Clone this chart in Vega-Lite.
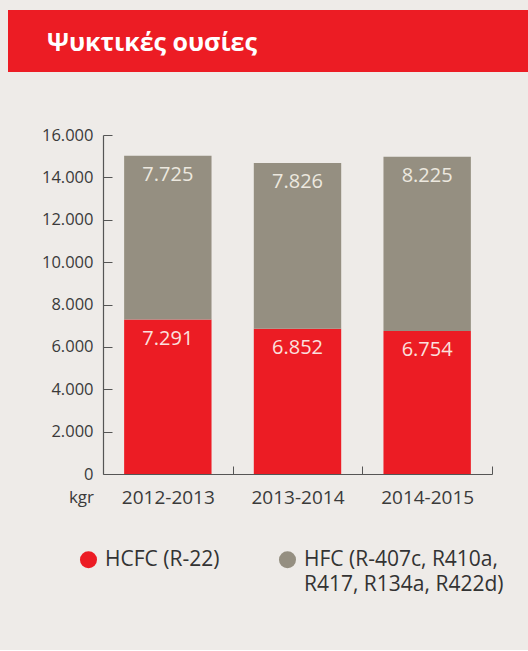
{
  "$schema": "https://vega.github.io/schema/vega-lite/v6.json",
  "background": "#eeebe8",
  "padding": {"top": 10, "left": 8, "right": 0, "bottom": 55},
  "spacing": 55,
  "config": {
    "locale": {"number": {"decimal": ",", "thousands": ".", "grouping": [3], "currency": ["", " €"]}},
    "font": "Open Sans",
    "view": {"stroke": null},
    "style": {"guide-label": {"lineHeight": 25}}
  },
  "vconcat": [
    {
      "width": 520,
      "height": 62,
      "view": {"fill": "#ec1c24", "stroke": null},
      "title": {"text": "Ψυκτικές ουσίες", "anchor": "start", "frame": "group", "dx": 39, "offset": -58, "baseline": "middle", "color": "#ffffff", "fontSize": 25, "fontWeight": "bold", "font": "Open Sans"},
      "data": {"values": [{"t": ""}]},
      "mark": {"type": "text"},
      "encoding": {"text": {"field": "t"}}
    },
    {
      "width": 484,
      "height": 339,
      "data": {"values": [
        {"period": "2012-2013", "type": "HCFC (R-22)", "order": 1, "value": 7291},
        {"period": "2012-2013", "type": "HFC (R-407c, R410a, R417, R134a, R422d)", "order": 2, "value": 7725},
        {"period": "2013-2014", "type": "HCFC (R-22)", "order": 1, "value": 6852},
        {"period": "2013-2014", "type": "HFC (R-407c, R410a, R417, R134a, R422d)", "order": 2, "value": 7826},
        {"period": "2014-2015", "type": "HCFC (R-22)", "order": 1, "value": 6754},
        {"period": "2014-2015", "type": "HFC (R-407c, R410a, R417, R134a, R422d)", "order": 2, "value": 8225}
      ]},
      "transform": [
        {"stack": "value", "groupby": ["period"], "sort": [{"field": "order"}], "as": ["v0", "v1"]}
      ],
      "encoding": {
        "x": {
          "field": "period", "type": "nominal", "title": null,
          "scale": {"range": [95, 484], "paddingInner": 0.326, "paddingOuter": 0.163},
          "axis": {
            "labelAngle": 0, "labelFontSize": 19, "labelColor": "#3a3a3a", "labelFont": "Open Sans",
            "tickOffset": 64.8, "labelOffset": -64.8, "tickSize": -8, "tickColor": "#555555", "tickWidth": 1,
            "domainColor": "#555555", "domainWidth": 1.2, "labelPadding": 22
          }
        }
      },
      "layer": [
        {
          "mark": {"type": "bar"},
          "encoding": {
            "y": {
              "field": "v1", "type": "quantitative",
              "scale": {"domain": [0, 16000]},
              "axis": {
                "values": [0, 2000, 4000, 6000, 8000, 10000, 12000, 14000, 16000],
                "format": ",d", "grid": false, "offset": -95,
                "labelFontSize": 16.5, "labelColor": "#3a3a3a", "labelFont": "Open Sans",
                "tickSize": -9, "labelPadding": 19, "tickColor": "#555555",
                "domainColor": "#555555", "domainWidth": 1.2,
                "title": "kgr", "titleAngle": 0, "titleX": -22, "titleY": 362, "titleAlign": "center", "titleBaseline": "middle",
                "titleFontSize": 17, "titleFontWeight": "normal", "titleColor": "#3a3a3a", "titleFont": "Open Sans"
              }
            },
            "y2": {"field": "v0"},
            "color": {
              "field": "type", "type": "nominal",
              "scale": {"domain": ["HCFC (R-22)", "HFC (R-407c, R410a, R417, R134a, R422d)"], "range": ["#ec1c24", "#958f81"]},
              "legend": {
                "title": null, "orient": "none", "legendX": 70, "legendY": 539, "direction": "horizontal", "columns": 2,
                "symbolType": "circle", "symbolSize": 290, "symbolStrokeWidth": 0, "labelFontSize": 21, "labelColor": "#333333", "labelFont": "Open Sans",
                "labelOffset": 6, "columnPadding": 57, "padding": 0, "labelLimit": 400,
                "labelExpr": "datum.label == 'HCFC (R-22)' ? ['HCFC (R-22)', ''] : ['HFC (R-407c, R410a,', 'R417, R134a, R422d)']"
              }
            }
          }
        },
        {
          "mark": {"type": "text", "baseline": "top", "dy": 9, "fontSize": 20, "font": "Open Sans"},
          "encoding": {
            "y": {"field": "v1", "type": "quantitative"},
            "text": {"field": "value", "type": "quantitative", "format": ",d"},
            "color": {"condition": {"test": "datum.order == 1", "value": "#fbe0de"}, "value": "#ece8df"}
          }
        }
      ]
    }
  ]
}
